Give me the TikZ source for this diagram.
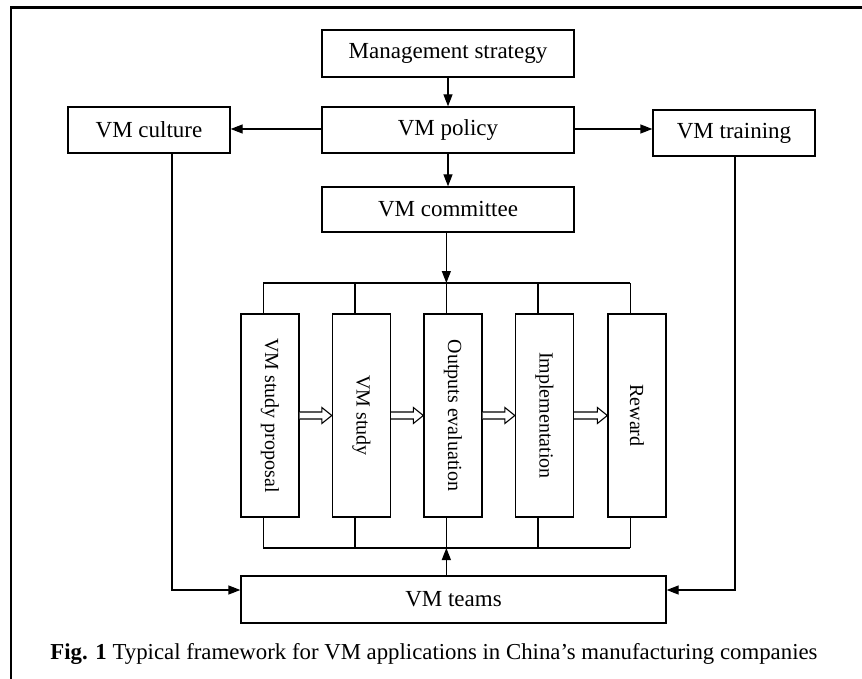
\documentclass[tikz,border=0pt]{standalone}
\usepackage{fontspec}
\setmainfont{Liberation Serif}
\usetikzlibrary{arrows.meta,calc}
\begin{document}
\begin{tikzpicture}[x=1bp,y=-1bp,
  box/.style={draw,line width=1.3bp,inner sep=0pt,font=\fontsize{23bp}{27bp}\selectfont},
  pbox/.style={box,minimum width=58bp,minimum height=203bp,font=\fontsize{20bp}{24bp}\selectfont},
  conn/.style={line width=1.3bp},
  arr/.style={conn,-{Triangle[length=12bp,width=9bp]}},
  hollow/.style={line width=1.1bp,fill=white}]
\useasboundingbox (0,0) rectangle (862,679);
\draw[line width=2.3bp] (11,679) -- (11,7.5) -- (862,7.5);

\node[box,minimum width=252bp,minimum height=47bp] (ms) at (448,53.5) {Management strategy};
\node[box,minimum width=252bp,minimum height=46bp] (pol) at (448,130) {VM policy};
\node[box,minimum width=252bp,minimum height=45bp] (com) at (448,209.5) {VM committee};
\node[box,minimum width=162bp,minimum height=46bp] (cul) at (149,130) {VM culture};
\node[box,minimum width=162bp,minimum height=46bp] (tra) at (734,133) {VM training};
\node[box,minimum width=425bp,minimum height=47bp] (team) at (453.5,599.5) {VM teams};

\node[pbox] (b1) at (270,415.5) {\rotatebox{-90}{VM study proposal}};
\node[pbox] (b2) at (361.5,415.5) {\rotatebox{-90}{VM study}};
\node[pbox] (b3) at (453,415.5) {\rotatebox{-90}{Outputs evaluation}};
\node[pbox] (b4) at (544.5,415.5) {\rotatebox{-90}{Implementation}};
\node[pbox] (b5) at (637,415.5) {\rotatebox{-90}{Reward}};

\coordinate (bt) at (0,283);
\coordinate (bb) at (0,548);
\coordinate (ya) at (0,129);
\coordinate (yt) at (0,590);
\coordinate (cx) at (172,0);
\coordinate (tx) at (735,0);
\foreach \i in {1,...,5} {\coordinate (d\i) at ($(b\i.north west)+(23,0)$);}

\draw[arr] (ms) -- (pol);
\draw[arr] (pol) -- (com);
\draw[arr] (pol.west |- ya) -- (cul.east |- ya);
\draw[arr] (pol.east |- ya) -- (tra.west |- ya);

\draw[arr] (com.south -| d3) -- (d3 |- bt);
\draw[conn] (d1 |- bt) -- (d5 |- bt);
\draw[conn] (d1 |- bb) -- (d5 |- bb);
\foreach \i in {1,...,5} {
  \draw[conn] (d\i |- bt) -- (b\i.north -| d\i);
  \draw[conn] (b\i.south -| d\i) -- (d\i |- bb);
}
\draw[arr] (team.north -| d3) -- (d3 |- bb);

\draw[arr] (cul.south -| cx) |- (team.west |- yt);
\draw[arr] (tra.south -| tx) |- (team.east |- yt);

\foreach \a/\b in {b1/b2,b2/b3,b3/b4,b4/b5} {
  \draw[hollow] ($(\a.east)+(0,3.5)$) -- ($(\b.west)+(-10,3.5)$) -- ($(\b.west)+(-10,8)$) -- (\b.west)
    -- ($(\b.west)+(-10,-8)$) -- ($(\b.west)+(-10,-3.5)$) -- ($(\a.east)+(0,-3.5)$);
}

\node[anchor=base,inner sep=0pt,font=\fontsize{22.8bp}{27bp}\selectfont] (cap) at (434,659)
  {\textbf{Fig. 1} Typical framework for VM applications in China’s manufacturing companies};
\end{tikzpicture}
\end{document}
